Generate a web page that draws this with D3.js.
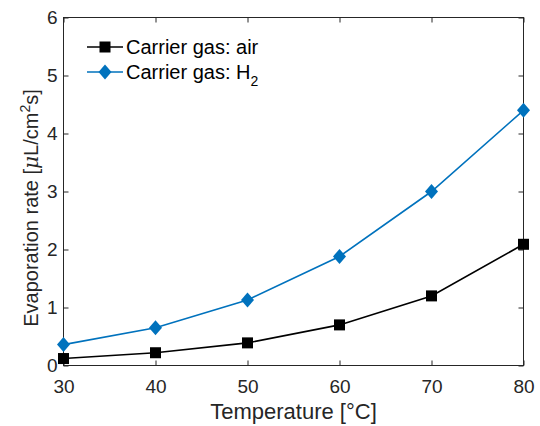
<!DOCTYPE html>
<html><head><meta charset="utf-8">
<script src="https://cdn.jsdelivr.net/npm/d3@7"></script>
<style>body{margin:0;background:#fff}svg{display:block}text{font-family:"Liberation Sans",Arial,sans-serif}</style>
</head><body><svg id="c" width="540" height="426"></svg>
<script>
const temperatures = [30, 40, 50, 60, 70, 80];
const airRate = [0.12, 0.22, 0.39, 0.70, 1.20, 2.09];
const h2Rate = [0.36, 0.65, 1.13, 1.88, 3.00, 4.40];
const xTicks = [30, 40, 50, 60, 70, 80];
const yTicks = [0, 1, 2, 3, 4, 5, 6];

const svg = d3.select("#c");
const L = 63.5, R = 523.5, T = 17.5, B = 365.5;
const x = d3.scaleLinear().domain([30, 80]).range([L, R]);
const y = d3.scaleLinear().domain([0, 6]).range([B, T]);
const axc = "#262626";
const fmt = d3.format("d");

// box
svg.append("rect").attr("x", L).attr("y", T).attr("width", R - L).attr("height", B - T)
  .attr("fill", "none").attr("stroke", axc).attr("stroke-width", 1);

// axes
const xa = svg.append("g").attr("transform", `translate(0,${B})`)
  .call(d3.axisBottom(x).tickValues(xTicks).tickFormat(fmt).tickSize(-5).tickPadding(14));
const xt = svg.append("g").attr("transform", `translate(0,${T})`)
  .call(d3.axisTop(x).tickValues(xTicks).tickSize(-5).tickFormat(""));
const ya = svg.append("g").attr("transform", `translate(${L},0)`)
  .call(d3.axisLeft(y).tickValues(yTicks).tickFormat(fmt).tickSize(-5).tickPadding(6));
const yr = svg.append("g").attr("transform", `translate(${R},0)`)
  .call(d3.axisRight(y).tickValues(yTicks).tickSize(-5).tickFormat(""));
[xa, xt, ya, yr].forEach(g => {
  g.select(".domain").remove();
  g.selectAll("line").attr("stroke", axc);
  g.selectAll("text").attr("fill", axc).style("font-size", "19px")
    .style("font-family", '"Liberation Sans",Arial,sans-serif');
});

// lines
const line = d3.line().x((d, i) => x(temperatures[i])).y(d => y(d));
const series = [
  {name: "air", vals: airRate, color: "#000000", marker: "square"},
  {name: "H2", vals: h2Rate, color: "#0072BD", marker: "diamond"}
];
function marker(g, type, cx, cy, color) {
  if (type === "square") {
    g.append("rect").attr("x", cx - 5.5).attr("y", cy - 5.5).attr("width", 11).attr("height", 11).attr("fill", color);
  } else {
    g.append("path").attr("d", `M${cx},${cy - 7.5}L${cx + 6.5},${cy}L${cx},${cy + 7.5}L${cx - 6.5},${cy}Z`).attr("fill", color);
  }
}
series.forEach(s => {
  svg.append("path").datum(s.vals).attr("d", line).attr("fill", "none")
    .attr("stroke", s.color).attr("stroke-width", 1.6);
  const g = svg.append("g");
  s.vals.forEach((v, i) => marker(g, s.marker, x(temperatures[i]), y(v), s.color));
});

// legend
const leg = svg.append("g");
const rows = [
  {label: "Carrier gas: air", color: "#000000", marker: "square", yy: 47},
  {label: "Carrier gas: H", sub: "2", color: "#0072BD", marker: "diamond", yy: 72}
];
rows.forEach(r => {
  leg.append("line").attr("x1", 87).attr("x2", 123).attr("y1", r.yy).attr("y2", r.yy)
    .attr("stroke", r.color).attr("stroke-width", 1.6);
  marker(leg, r.marker, 105, r.yy, r.color);
  const t = leg.append("text").attr("x", 126).attr("y", r.yy + 7).attr("fill", "#000")
    .style("font-size", "20px").text(r.label);
  if (r.sub) t.append("tspan").attr("dy", 7).style("font-size", "14px").text(r.sub);
});

// axis labels
svg.append("text").attr("x", (L + R) / 2).attr("y", 419).attr("text-anchor", "middle")
  .attr("fill", axc).style("font-size", "22px").text("Temperature [°C]");
const yl = svg.append("text").attr("transform", `translate(38,208) rotate(-90)`)
  .attr("text-anchor", "middle").attr("fill", axc).style("font-size", "20px");
yl.append("tspan").text("Evaporation rate [");
yl.append("tspan").style("font-family", '"DejaVu Serif",serif').style("font-style", "italic").text("μ");
yl.append("tspan").text("L/cm");
yl.append("tspan").attr("dy", -8).style("font-size", "14px").text("2");
yl.append("tspan").attr("dy", 8).text("s]");
</script></body></html>
